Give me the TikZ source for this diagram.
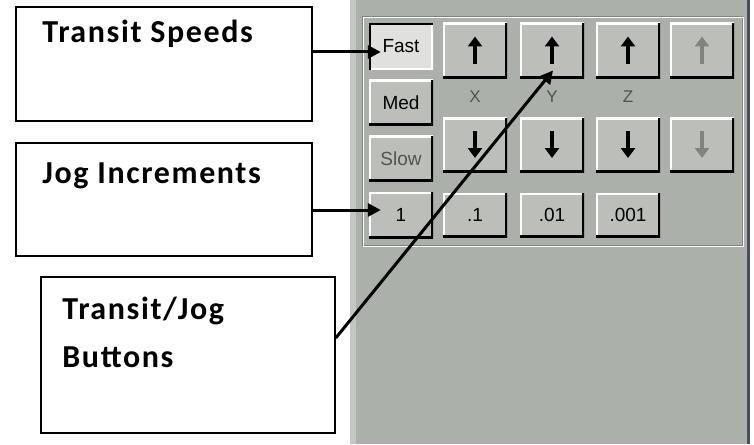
\documentclass[tikz,border=0pt]{standalone}
\usepackage{fontspec}
\setmainfont{Carlito}
\newfontfamily\guifont{Liberation Sans}
\usetikzlibrary{arrows.meta, positioning}

\definecolor{panelGrey}{RGB}{172,176,170}
\definecolor{panelEdge}{RGB}{196,198,194}
\definecolor{btnFace}{RGB}{188,190,186}
\definecolor{btnPressed}{RGB}{224,225,222}
\definecolor{dimGrey}{RGB}{128,132,128}
\definecolor{labelGrey}{RGB}{80,84,80}
\definecolor{frameBlue}{RGB}{70,76,120}

\begin{document}
\begin{tikzpicture}[
    x=1pt, y=-1pt,
    callout/.style={draw, line width=1.5pt, fill=white, inner sep=0pt},
    callout_text/.style={font=\fontsize{32}{48}\selectfont\bfseries\addfontfeatures{LetterSpace=5}, anchor=north west, inner sep=0pt, align=left},
    pointer/.style={line width=3pt, -{Triangle[length=13pt, width=13pt]}},
    winbtn/.style={fill=btnFace, minimum width=64pt, minimum height=46pt, inner sep=0pt,
        font=\guifont\fontsize{19}{22}\selectfont,
        path picture={
            \draw[white, line width=4pt] (path picture bounding box.south west) |- (path picture bounding box.north east);
            \draw[black, line width=5pt] (path picture bounding box.south west) -| (path picture bounding box.north east);
        }},
    winbtn_down/.style={fill=btnPressed, minimum width=64pt, minimum height=46pt, inner sep=0pt,
        font=\guifont\fontsize{19}{22}\selectfont,
        path picture={
            \draw[white, line width=4pt] (path picture bounding box.south west) -| (path picture bounding box.north east);
            \draw[black, line width=4pt] (path picture bounding box.south west) |- (path picture bounding box.north east);
        }},
    arrowbtn/.style={winbtn, minimum height=55pt},
    glyph/.style={line width=4.5pt, -{Triangle[length=10pt, width=14pt]}},
    axis_label/.style={font=\guifont\fontsize{17}{19}\selectfont, text=labelGrey, inner sep=0pt}
]

    \useasboundingbox (0,0) rectangle (754,444);

    % === Control panel ===
    \fill[panelGrey] (350,0) rectangle (747,444);
    \fill[panelEdge] (350,0) rectangle (356,444);
    \fill[frameBlue] (747,0) rectangle (750,444);

    % group frame
    \draw[dimGrey, line width=1pt] (362,17) rectangle (742,245);
    \draw[white, line width=1pt] (363,18) rectangle (743,246);

    % speed and increment buttons
    \node[winbtn_down] (fast) at (401,46.5) {Fast};
    \node[winbtn] (med) at (401,102.5) {Med};
    \node[winbtn, text=labelGrey] (slow) at (401,158.5) {Slow};
    \node[winbtn] (one) at (401,215) {1};

    % jog buttons
    \foreach \n/\cx/\lbl in {x/475/X, y/552/Y, z/628/Z} {
        \node[arrowbtn] (\n-up) at (\cx,50.5) {};
        \node[arrowbtn] (\n-down) at (\cx,145) {};
        \node[axis_label] (\n-label) at (\cx,97) {\lbl};
        \draw[glyph] ([yshift=-13pt]\n-up.center) -- ([yshift=14pt]\n-up.center);
        \draw[glyph] ([yshift=14pt]\n-down.center) -- ([yshift=-13pt]\n-down.center);
    }
    \node[arrowbtn] (w-up) at (702,50.5) {};
    \node[arrowbtn] (w-down) at (702,145) {};
    \draw[glyph, dimGrey, line width=3.5pt] ([yshift=-13pt]w-up.center) -- ([yshift=14pt]w-up.center);
    \draw[glyph, dimGrey, line width=3.5pt] ([yshift=14pt]w-down.center) -- ([yshift=-13pt]w-down.center);

    \foreach \n/\cx/\lbl in {tenth/475/.1, hundredth/552/.01, thousandth/628/.001}
        \node[winbtn, minimum height=44pt] (\n) at (\cx,215) {\lbl};

    % === Callouts ===
    \node[callout, minimum width=296pt, minimum height=114pt] (speeds) at (164,64) {};
    \node[callout_text] (speeds-text) at ([shift={(27,14)}]speeds.north west) {Transit Speeds};

    \node[callout, minimum width=296pt, minimum height=113pt] (increments) at (164,199.5) {};
    \node[callout_text] (increments-text) at ([shift={(27,20)}]increments.north west) {Jog Increments};

    \node[callout, minimum width=294pt, minimum height=156pt] (buttons) at (188,355) {};
    \node[callout_text] (buttons-text) at ([shift={(22,21)}]buttons.north west) {Transit/Jog\\Buttons};

    % pointers
    \coordinate (fast-tip) at ([xshift=12pt, yshift=-5.5pt]fast.west);
    \coordinate (one-tip) at ([xshift=12pt, yshift=5pt]one.west);
    \coordinate (y-tip) at ([xshift=1pt, yshift=-20pt]y-up.center);
    \coordinate (buttons-start) at ([yshift=17pt]buttons.east);

    \draw[pointer] (speeds.east |- fast-tip) -- (fast-tip);
    \draw[pointer] (increments.east |- one-tip) -- (one-tip);
    \draw[pointer] (buttons-start) -- (y-tip);

\end{tikzpicture}
\end{document}
